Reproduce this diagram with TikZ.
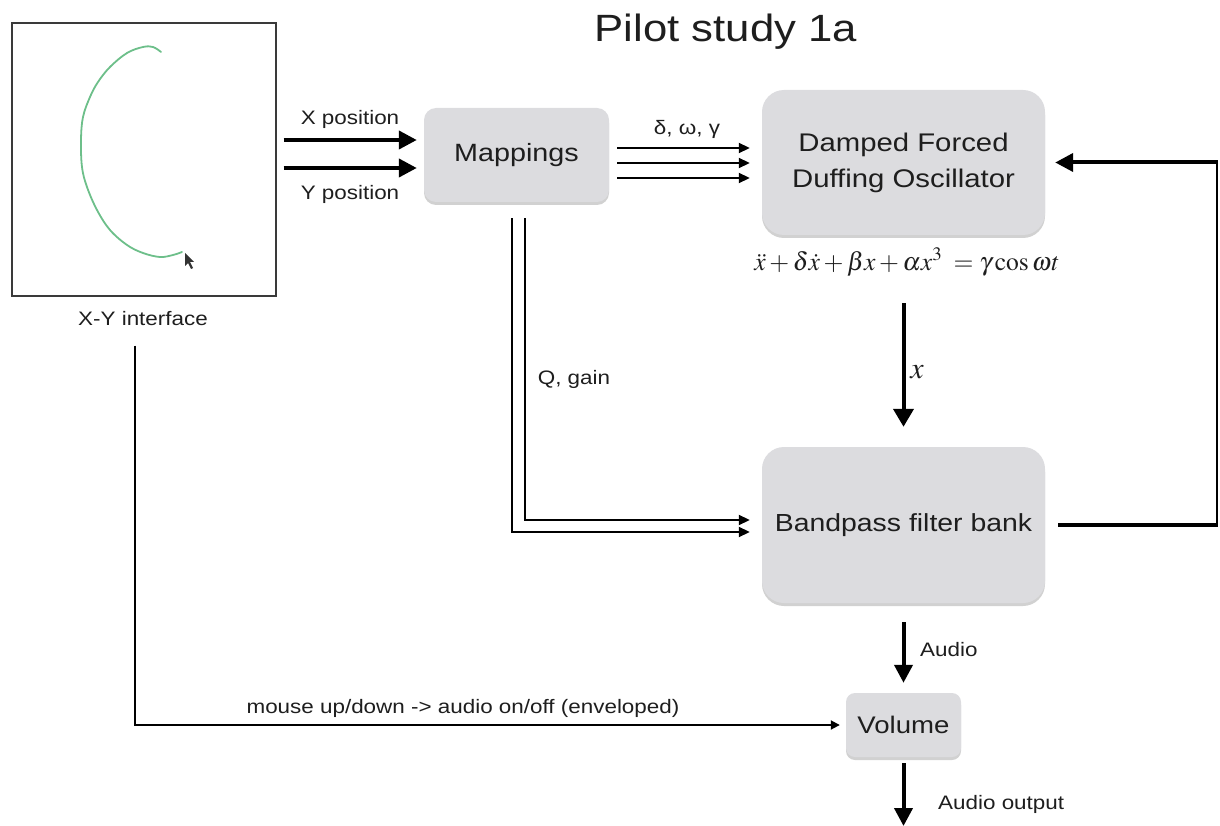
\documentclass[tikz,border=0pt]{standalone}
\usepackage{mathptmx}
\usepackage[no-math]{fontspec}
\setmainfont{Liberation Sans}[FakeStretch=1.15]
\usetikzlibrary{arrows.meta,shadows,calc}

\definecolor{boxfill}{HTML}{DCDCDF}
\definecolor{txt}{HTML}{1E1E1E}
\definecolor{frame}{HTML}{3A3A3A}
\definecolor{trace}{HTML}{6DBF8A}

\begin{document}
\begin{tikzpicture}[x=1pt,y=-1pt,
  lbl/.style={font=\fontsize{19.5}{23}\selectfont, text=txt, inner sep=0pt},
  blk/.style={fill=boxfill, rounded corners=#1, inner sep=0pt, text=txt,
    drop shadow={shadow xshift=0pt, shadow yshift=-3pt, opacity=0.3, fill=black!60}},
  heavy/.style={line width=4pt, -{Triangle[length=18pt,width=18pt]}},
  light/.style={line width=1.8pt, -{Triangle[length=11pt,width=10pt]}},
]
\useasboundingbox (0,0) rectangle (1220,826);

% title
\node[font=\fontsize{38}{44}\selectfont, text=txt, anchor=base] (title) at (726,42) {Pilot study 1a};

% X-Y pad with a traced stroke and the pointer
\node[draw=frame, line width=1.3pt, minimum width=264pt, minimum height=273pt, inner sep=0pt] (xy) at (144,159.5) {};
\draw[trace, line width=1.8pt, line cap=round] plot[smooth, tension=0.6] coordinates {
  (161,52) (153,47) (143,47) (127,53) (110,67) (98,82) (90,97) (83,117) (81,140)
  (82,167) (87,187) (97,210) (110,230) (127,245) (143,253) (160,257) (173,255) (182,252)};
\fill[black!80] (185,253) -- (185,266) -- (188,263) -- (191,269) -- (193,268) -- (190,262) -- (194,262) -- cycle;
\node[lbl, anchor=base] (xylbl) at (143,325) {X-Y interface};

% processing blocks
\node[blk=12pt, minimum width=185pt, minimum height=94pt, font=\fontsize{25}{30}\selectfont] (map) at (516.5,155) {Mappings};
\node[blk=22pt, minimum width=283pt, minimum height=145pt, align=center, font=\fontsize{25.5}{36}\selectfont] (duff) at (903.5,162.5) {Damped Forced\\Duffing Oscillator};
\node[blk=22pt, minimum width=283pt, minimum height=156pt, font=\fontsize{24.7}{30}\selectfont] (bp) at (903.5,525) {Bandpass filter bank};
\node[blk=9pt, minimum width=115pt, minimum height=64pt, font=\fontsize{24}{30}\selectfont] (vol) at (903.5,725) {Volume};

% equation of motion
\node[anchor=base, text=txt, font=\fontsize{25.6}{30}\selectfont, inner sep=0pt] (eq) at (907,270)
  {$\ddot{x}+\delta\dot{x}+\beta x+\alpha x^{3}\;=\gamma\cos\omega t$};

% pad -> mappings
\draw[heavy, shorten <=7pt, shorten >=7pt] (xy.east |- 0,140) -- (map.west |- 0,140);
\draw[heavy, shorten <=7pt, shorten >=7pt] (xy.east |- 0,168) -- (map.west |- 0,168);
\node[lbl, anchor=base] (xpos) at (350,125) {X position};
\node[lbl, anchor=base] (ypos) at (350,200) {Y position};

% mappings -> oscillator parameters
\foreach \yy in {148,163,178}
  \draw[light, shorten <=8pt, shorten >=12pt] (map.east |- 0,\yy) -- (duff.west |- 0,\yy);
\node[lbl, anchor=base] (params) at (687,135) {δ, ω, γ};

% mappings -> filter bank
\draw[light, shorten >=12pt] ($(map.south)+(-4.5,16)$) |- (bp.west |- 0,532);
\draw[light, shorten >=12pt] ($(map.south)+(8.5,16)$) |- (bp.west |- 0,520);
\node[lbl, anchor=base] (qgain) at (574,384) {Q, gain};

% oscillator -> filter bank
\draw[line width=4pt, -{Triangle[length=18pt,width=20pt]}, shorten <=68pt, shorten >=20pt] (duff.south) -- (bp.north);
\node[anchor=base, text=txt, font=\fontsize{30}{34}\selectfont, inner sep=0pt] (xlbl) at (917,378) {$x$};

% feedback loop
\coordinate (fb1) at (1217,525);
\coordinate (fb2) at (1217,162.5);
\draw[line width=4pt, shorten <=13pt] (bp.east) -- ([xshift=1pt]fb1);
\draw[line width=2pt] (fb1) -- (fb2);
\draw[heavy, shorten >=10pt] ([xshift=1pt]fb2) -- (duff.east);

% audio path
\draw[heavy, shorten <=19pt, shorten >=10pt] (bp.south) -- (vol.north);
\node[lbl, anchor=base west] (audio) at (920,656) {Audio};
\coordinate (out) at (903.5,826);
\draw[heavy, shorten <=6pt] (vol.south) -- (out);
\node[lbl, anchor=base west] (audioout) at (938,809) {Audio output};

% mouse button -> volume envelope
\draw[line width=1.8pt, -{Triangle[length=9pt,width=9pt]}, shorten <=49pt, shorten >=6pt] (xy.south -| 135,0) |- (vol.west);
\node[lbl, anchor=base] (mouse) at (463,713) {mouse up/down -> audio on/off (enveloped)};
\end{tikzpicture}
\end{document}
